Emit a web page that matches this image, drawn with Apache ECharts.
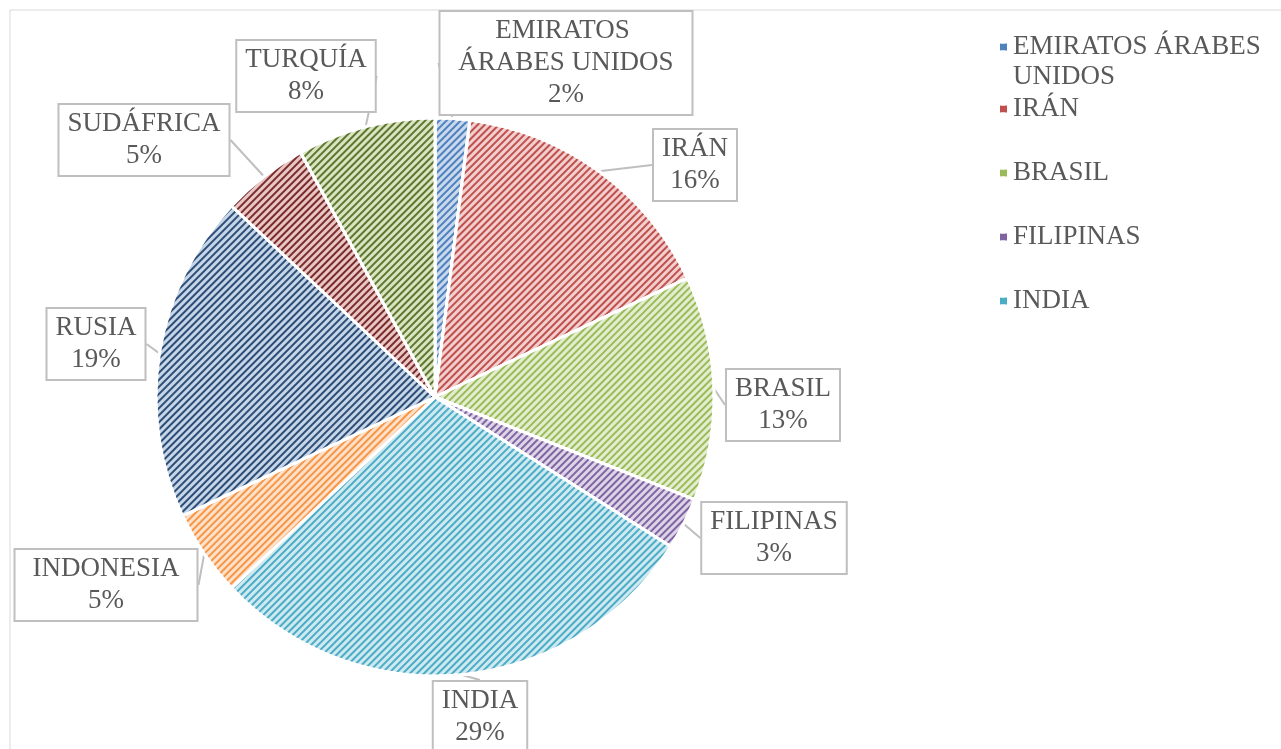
<!DOCTYPE html>
<html>
<head>
<meta charset="utf-8">
<script src="https://cdn.jsdelivr.net/npm/echarts@6/dist/echarts.min.js"></script>
<style>
  html, body { margin: 0; padding: 0; background: #fff; }
  #pieChart { width: 1281px; height: 749px; }
</style>
</head>
<body>
<div id="pieChart"></div>
<script>
// Datos del gráfico (porcentajes)
const paises = ['EMIRATOS ÁRABES UNIDOS', 'IRÁN', 'BRASIL', 'FILIPINAS', 'INDIA',
                'INDONESIA', 'RUSIA', 'SUDÁFRICA', 'TURQUÍA'];
const porcentajes = [2, 16, 13, 3, 29, 5, 19, 5, 8];
// la leyenda original solo muestra los cinco primeros
const leyendaVisible = ['EMIRATOS ÁRABES UNIDOS', 'IRÁN', 'BRASIL', 'FILIPINAS', 'INDIA'];

// colores: trama (oscuro) y fondo (claro)
const colTrama = ['#4F81BD', '#C0504D', '#9BBB59', '#8064A2', '#4BACC6',
                  '#F79646', '#2C4D75', '#772C2A', '#5F7530'];
const colFondo = ['#c9d8ec', '#f1cfce', '#e3edcf', '#ddd4e8', '#cfe9f1',
                  '#fde1ca', '#c6d5e8', '#e9c6c5', '#d9e5c1'];

// centro de cada cuadro de etiqueta
const posEtiquetas = [[566, 63], [695, 165], [783, 405], [774, 538], [480, 717],
                      [106, 585], [96, 344], [144, 140], [306, 76]];

const fuente = '"Liberation Serif", "DejaVu Serif", serif';

function drawPie() {
    const chart = echarts.init(document.getElementById('pieChart'));

    const data = paises.map((name, i) => ({
        name,
        value: porcentajes[i],
        itemStyle: {
            color: colFondo[i],
            decal: {
                symbol: 'rect',
                symbolSize: 1,
                color: colTrama[i],
                dashArrayX: [1, 0],
                dashArrayY: [2, 3],
                rotation: -Math.PI / 4
            }
        },
        label: i === 0 ? { width: 235, overflow: 'break' } : {}
    }));

    const legendText = {
        fontFamily: fuente,
        fontSize: 27,
        color: '#595959',
        lineHeight: 30
    };

    const option = {
        animation: false,
        graphic: [{
            type: 'rect',
            shape: { x: 10, y: 10, width: 1300, height: 800 },
            style: { fill: 'none', stroke: '#d9d9d9', lineWidth: 1 }
        }],
        legend: [
            {
                // línea vacía delante para que el icono quede junto a la primera línea
                data: [{ name: leyendaVisible[0], itemStyle: { color: colTrama[0] } }],
                formatter: name => '\n' + name.replace(/ (\S+)$/, '\n$1'),
                left: 993,
                top: -3,
                orient: 'vertical',
                icon: 'rect',
                itemWidth: 9,
                itemHeight: 9,
                textStyle: Object.assign({ align: 'left' }, legendText)
            },
            {
                data: leyendaVisible.slice(1).map((n, k) => ({ name: n, itemStyle: { color: colTrama[k + 1] } })),
                left: 993,
                top: 89,
                orient: 'vertical',
                icon: 'rect',
                itemWidth: 9,
                itemHeight: 9,
                itemGap: 34,
                textStyle: legendText
            }
        ],
        series: [{
            type: 'pie',
            center: [435, 397],
            radius: 279,
            startAngle: 90,
            clockwise: true,
            percentPrecision: 0,
            itemStyle: {
                borderColor: '#fff',
                borderWidth: 3
            },
            label: {
                show: true,
                position: 'outside',
                formatter: '{b}\n{d}%',
                fontFamily: fuente,
                fontSize: 27,
                lineHeight: 32,
                color: '#595959',
                align: 'center',
                backgroundColor: '#fff',
                borderColor: '#bfbfbf',
                borderWidth: 2,
                padding: [3, 8]
            },
            labelLine: {
                show: true,
                length: 10,
                length2: 0,
                lineStyle: { color: '#bfbfbf', width: 2 }
            },
            labelLayout: function (params) {
                const p = posEtiquetas[params.dataIndex];
                return { x: p[0], y: p[1], align: 'center', verticalAlign: 'middle' };
            },
            data: data
        }]
    };

    chart.setOption(option);
}

drawPie();
</script>
</body>
</html>
